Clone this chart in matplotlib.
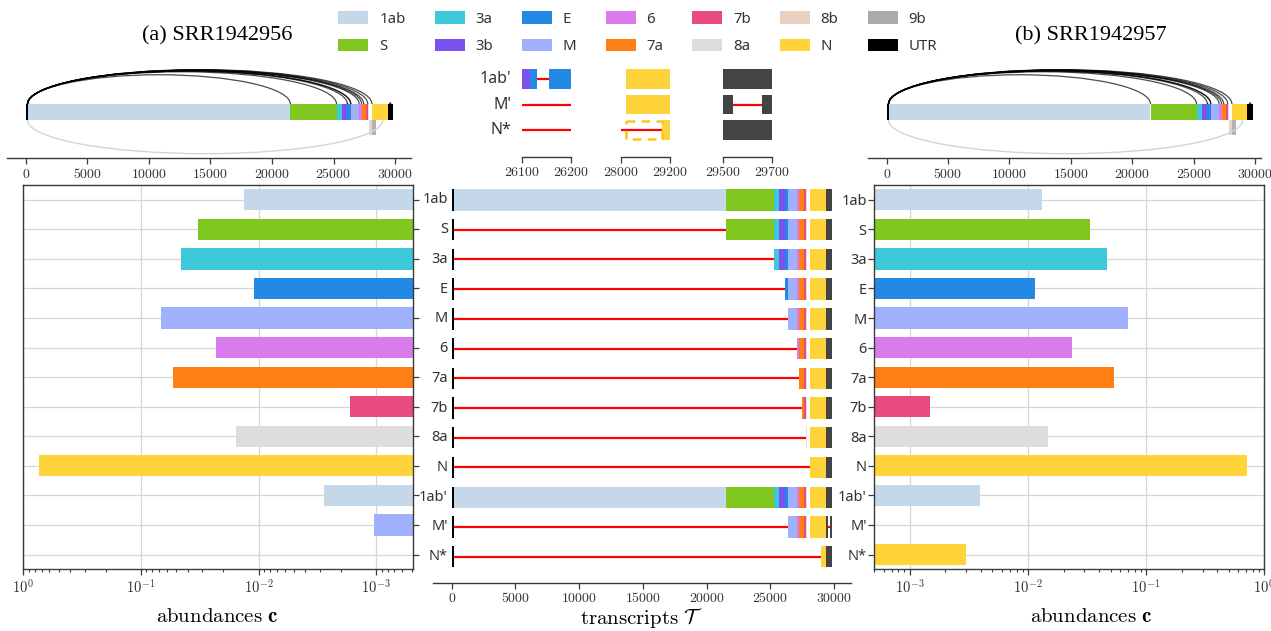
import math
import matplotlib
matplotlib.use("Agg")
import matplotlib.pyplot as plt
from matplotlib.patches import Patch, Rectangle, Arc
from matplotlib.ticker import FuncFormatter, LogLocator, NullFormatter

plt.rcParams["font.family"] = ["Noto Sans", "DejaVu Sans"]
plt.rcParams["mathtext.fontset"] = "cm"

# ---------------------------------------------------------------- data
# genome annotation (nt)
genes = ["1ab", "S", "3a", "3b", "E", "M", "6", "7a", "7b", "8a", "8b", "N", "9b", "UTR"]
gene_start = [150, 21492, 25268, 25690, 26117, 26398, 27074, 27273, 27638, 27779, 27864, 28120, 28130, 29388]
gene_end = [21485, 25259, 25690, 26117, 26398, 27074, 27273, 27638, 27779, 27898, 28118, 29388, 28426, 29850]
gene_colors = ["#c5d8e9", "#80c71f", "#3ec9db", "#7b52f0", "#2389e4", "#9fb0fc", "#d97aed",
               "#ff7f14", "#e84a82", "#dddddd", "#e8d0c0", "#ffd43b", "#aaaaaa", "#000000"]
nested_orfs = ["8b", "9b"]          # overlapping ORFs, drawn under the genome bar
leader_end = 150                     # 5' leader

# transcripts: body start (junction from leader) and internal deletions
transcripts = ["1ab", "S", "3a", "E", "M", "6", "7a", "7b", "8a", "N", "1ab'", "M'", "N*"]
body_start = [150, 21492, 25240, 26117, 26398, 27074, 27273, 27450, 27779, 28120, 150, 26398, 29000]
deletions = {"1ab'": (26131, 26156), "M'": (29543, 29658)}
tx_color_gene = ["1ab", "S", "3a", "E", "M", "6", "7a", "7b", "8a", "N", "1ab", "M", "N"]

# estimated abundances for the two samples
abund_a = [0.0132, 0.0330, 0.0459, 0.0110, 0.0679, 0.0228, 0.0537, 0.00166, 0.0157, 0.736,
           0.00276, 0.00104, 0.0]
abund_b = [0.0131, 0.0333, 0.0463, 0.0114, 0.0697, 0.0234, 0.0530, 0.00148, 0.0147, 0.719,
           0.00391, 0.0, 0.00296]

sample_titles = ["(a) SRR1942956", "(b) SRR1942957"]
zoom_windows = [(26100, 26200), (28000, 29200), (29500, 29700)]
zoom_rows = ["1ab'", "M'", "N*"]

color_of = dict(zip(genes, gene_colors))
MID_UTR = "#444444"
RED = "#ff0000"
SPINE = "#3a3a3a"
GRID = "#d6d6d6"

# ---------------------------------------------------------------- figure
W, H = 1271, 631
fig = plt.figure(figsize=(W / 100, H / 100), dpi=100)


def px_axes(x0, x1, y0, y1):
    return fig.add_axes([x0 / W, 1 - y1 / H, (x1 - x0) / W, (y1 - y0) / H])


def int_fmt(v, _pos):
    return r"$%d$" % int(round(v))


def pow_fmt(v, _pos):
    if v <= 0:
        return ""
    e = math.log10(v)
    if abs(e - round(e)) > 1e-6:
        return ""
    return r"$10^{%d}$" % int(round(e))


def transcript_pieces(name, body):
    """Expressed pieces (start, end, colour) and junction lines of one transcript."""
    pieces = [(0, leader_end, "#000000")]
    lines = []
    if body > leader_end:
        lines.append((leader_end, body))
    gap = deletions.get(name)
    for g, s, e in zip(genes, gene_start, gene_end):
        if g in nested_orfs:
            continue
        s = max(s, body)
        if e <= s:
            continue
        c = MID_UTR if g == "UTR" else color_of[g]
        if gap and gap[0] < e and gap[1] > s:
            if gap[0] > s:
                pieces.append((s, gap[0], c))
            if gap[1] < e:
                pieces.append((gap[1], e, c))
        else:
            pieces.append((s, e, c))
    if gap:
        lines.append(gap)
    return pieces, lines


def draw_transcript(ax, row, name, body, h):
    pieces, lines = transcript_pieces(name, body)
    for s, e, c in pieces:
        ax.barh(row, e - s, left=s, height=h, color=c, lw=0, zorder=2)
    for s, e in lines:
        ax.plot([s, e], [row, row], color=RED, lw=1.6, solid_capstyle="butt", zorder=3)


def style_bottom_only(ax):
    for side in ("left", "right", "top"):
        ax.spines[side].set_visible(False)
    ax.spines["bottom"].set_color(SPINE)
    ax.spines["bottom"].set_linewidth(1.0)
    ax.set_yticks([])
    ax.tick_params(axis="x", colors=SPINE, length=4, width=0.9, labelsize=10,
                   labelcolor="#333333", pad=2)


# ---------------------------------------------------------------- genome overviews
def draw_genome(ax, xlim):
    for g, s, e, c in zip(genes, gene_start, gene_end, gene_colors):
        if g in nested_orfs:
            ax.add_patch(Rectangle((s, -0.95), e - s, 0.95, color=c, lw=0, alpha=0.9))
        else:
            ax.add_patch(Rectangle((s, 0), e - s, 1, color=c, lw=0))
    ax.add_patch(Rectangle((0, 0), leader_end, 1, color="#000000", lw=0))
    ref = 28120 - leader_end
    for name, b in zip(transcripts, body_start):
        spans = []
        if b > leader_end:
            spans.append((leader_end, b))
        if name in deletions:
            spans.append(deletions[name])
        for s, e in spans:
            d = e - s
            if name == "N*":
                ax.add_patch(Arc(((s + e) / 2, 0), d, 2 * 2.1, theta1=180, theta2=360,
                                 color="#d4d4d4", lw=1.0))
            else:
                hgt = 2.15 * (d / ref) ** 0.6
                ax.add_patch(Arc(((s + e) / 2, 1), d, 2 * hgt, theta1=0, theta2=180,
                                 color="#000000", lw=0.9, alpha=0.7))
    ax.set_xlim(*xlim)
    ax.set_ylim(-2.39, 3.75)
    style_bottom_only(ax)
    ax.set_xticks(range(0, 30001, 5000))
    ax.xaxis.set_major_formatter(FuncFormatter(int_fmt))


ax_gl = px_axes(6.7, 411, 60, 158.3)
draw_genome(ax_gl, (-1543, 31290))
ax_gr = px_axes(867.7, 1261, 60, 158.3)
draw_genome(ax_gr, (-1547, 30490))

# ---------------------------------------------------------------- zoomed windows
zoom_px = [(522, 571), (620.7, 669.7), (722.7, 772)]
for k, ((x0, x1), (lo, hi)) in enumerate(zip(zoom_px, zoom_windows)):
    ax = px_axes(x0, x1, 62, 156.7)
    for r, name in enumerate(zoom_rows):
        body = body_start[transcripts.index(name)]
        draw_transcript(ax, r, name, body, 0.76)
        if name == "N*":
            n_s = gene_start[genes.index("N")]
            ax.add_patch(Rectangle((n_s, r - 0.36), body - n_s, 0.72, fill=False,
                                   edgecolor="#ffc61a", lw=1.8, ls=(0, (3.5, 2.5)), zorder=4))
    ax.set_xlim(lo, hi)
    ax.set_ylim(3.035, -0.66)
    style_bottom_only(ax)
    ax.set_xticks([lo, hi])
    ax.xaxis.set_major_formatter(FuncFormatter(int_fmt))
    if k == 0:
        for r, name in enumerate(zoom_rows):
            ax.annotate(name, (0, r), xycoords=("axes fraction", "data"),
                        xytext=(-7.5, 0), textcoords="offset points",
                        ha="right", va="center", fontsize=11.5, color="#333333")

# ---------------------------------------------------------------- transcripts panel
rows = list(range(len(transcripts)))
ax_m = px_axes(432.7, 850.7, 185, 582.7)
for r, name, body in zip(rows, transcripts, body_start):
    draw_transcript(ax_m, r, name, body, 0.72)
    ax_m.annotate(name, (0, r), xytext=(-2.8, 0), textcoords="offset points",
                  ha="right", va="center", fontsize=10.5, color="#333333")
ax_m.set_xlim(-1490, 31290)
ax_m.set_ylim(12.875, -0.5)
style_bottom_only(ax_m)
ax_m.set_xticks(range(0, 30001, 5000))
ax_m.xaxis.set_major_formatter(FuncFormatter(int_fmt))
ax_m.set_xlabel(r"$\mathrm{transcripts}\ \mathcal{T}$", fontsize=15, labelpad=0)

# ---------------------------------------------------------------- abundance panels
bar_colors = [color_of[g] for g in tx_color_gene]


def draw_abundance(ax, values):
    ax.barh(rows, values, height=0.72, color=bar_colors, lw=0, zorder=2)
    ax.set_xscale("log")
    ax.set_ylim(12.5, -0.5)
    ax.set_yticks(rows)
    ax.grid(True, which="major", color=GRID, lw=0.9, zorder=0)
    ax.set_axisbelow(True)
    for sp in ax.spines.values():
        sp.set_color(SPINE)
        sp.set_linewidth(1.0)
    ax.xaxis.set_major_locator(LogLocator(base=10, numticks=10))
    ax.xaxis.set_minor_locator(LogLocator(base=10, subs=range(2, 10), numticks=20))
    ax.xaxis.set_major_formatter(FuncFormatter(pow_fmt))
    ax.xaxis.set_minor_formatter(NullFormatter())
    ax.tick_params(axis="x", which="major", length=4, width=0.9, colors=SPINE,
                   labelcolor="#333333", labelsize=10.5, pad=3)
    ax.tick_params(axis="x", which="minor", length=2.5, width=0.8, colors=SPINE)
    ax.tick_params(axis="y", length=4, width=0.9, colors=SPINE, labelsize=10.5,
                   labelcolor="#333333", pad=1.5)


ax_l = px_axes(23.3, 412.7, 185, 569.3)
draw_abundance(ax_l, abund_a)
ax_l.set_xlim(1, 4.9e-4)
ax_l.yaxis.tick_right()
ax_l.tick_params(axis="y", labelright=False, labelleft=False)

ax_r = px_axes(874.3, 1264.3, 185, 569.3)
draw_abundance(ax_r, abund_b)
ax_r.set_xlim(5.0e-4, 1)
ax_r.set_yticklabels(transcripts)

# ---------------------------------------------------------------- titles, labels, legend
label_kw = dict(fontsize=15, ha="center", va="baseline")
fig.text(216.7 / W, 1 - 622 / H, r"$\mathrm{abundances}\ \mathbf{c}$", **label_kw)
fig.text(1091 / W, 1 - 622 / H, r"$\mathrm{abundances}\ \mathbf{c}$", **label_kw)
title_kw = dict(fontsize=16, ha="center", va="baseline", family="Liberation Serif")
fig.text(217 / W, 1 - 40 / H, sample_titles[0], **title_kw)
fig.text(1091 / W, 1 - 40 / H, sample_titles[1], **title_kw)

handles = [Patch(facecolor=c, edgecolor="none", label=g) for g, c in zip(genes, gene_colors)]
fig.legend(handles=handles, ncol=7, loc="upper left", bbox_to_anchor=(338.5 / W, 1 - 11 / H),
           frameon=False, fontsize=10.8, handlelength=2.0, handleheight=0.93,
           handletextpad=0.72, columnspacing=1.93, labelspacing=0.8,
           borderpad=0, borderaxespad=0, labelcolor="#333333")

fig.savefig("out.png", dpi=100)
